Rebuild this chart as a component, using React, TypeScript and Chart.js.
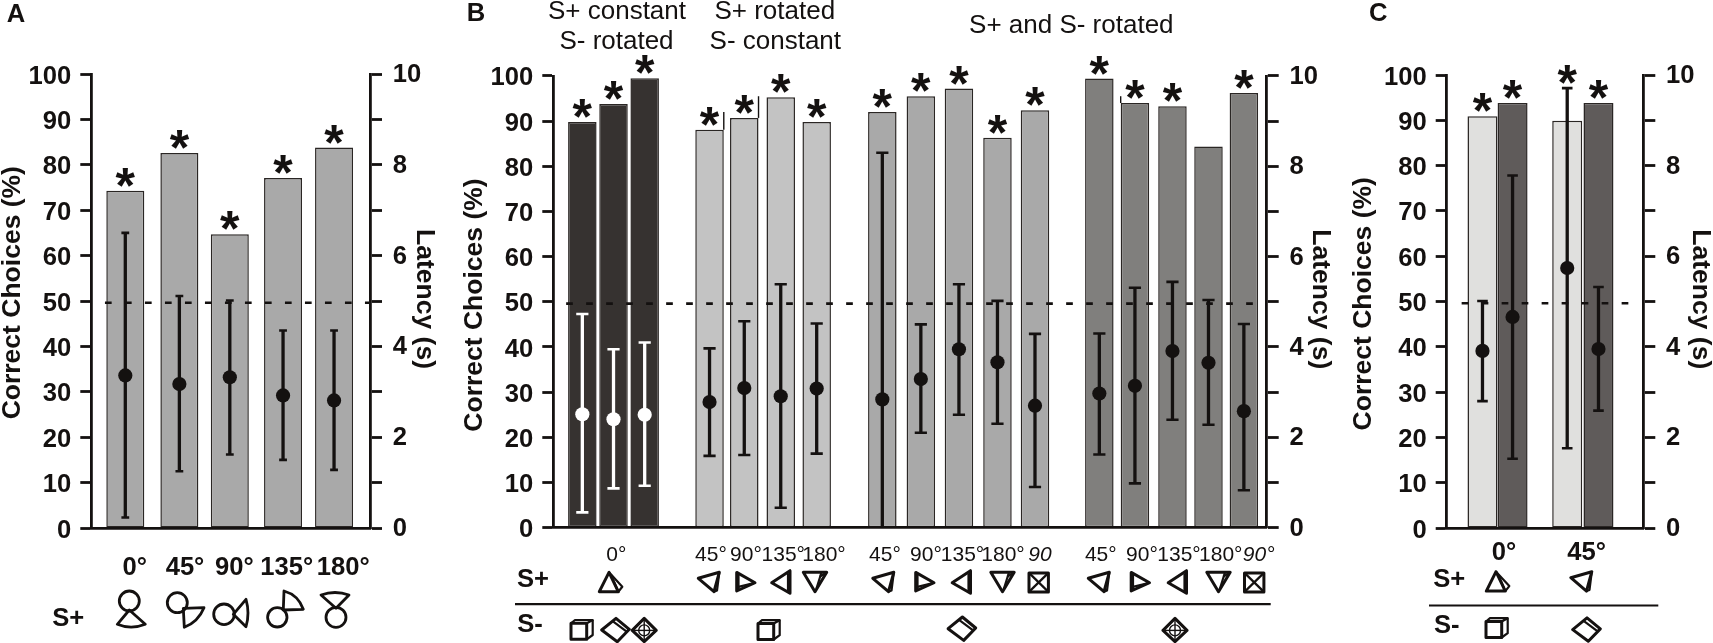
import Chart from "chart.js/auto";
import { useRef, useEffect } from "react";

const FONT = '"Liberation Sans", Arial, sans-serif';
const INK = "#141110";

const chanceLevel = 49.6;

// Panel A
const aPositions = [12.2, 31.6, 49.7, 68.8, 87.1];
const aCorrect = [74.3, 82.6, 64.7, 77.1, 83.8];
const aLatency = [3.36, 3.17, 3.32, 2.92, 2.81];
const aLatencyLow = [0.23, 1.25, 1.62, 1.5, 1.28];
const aLatencyHigh = [6.5, 5.11, 5.01, 4.35, 4.35];
const aStars = [74.3, 82.6, 64.7, 77.1, 83.8];
const aBarColors = ["#a9a9a9", "#a9a9a9", "#a9a9a9", "#a9a9a9", "#a9a9a9"];

// Panel B
const bPositions = [4.07, 8.44, 12.81, 21.9, 26.77, 31.88, 36.92, 46.12, 51.52, 56.86, 62.26, 67.52, 76.54, 81.53, 86.79, 91.84, 96.8];
const bCorrect = [89.8, 93.8, 99.5, 88.1, 90.7, 95.3, 89.8, 92, 95.5, 97.2, 86.3, 92.4, 99.4, 94, 93.3, 84.4, 96.2];
const bLatency = [2.51, 2.4, 2.5, 2.78, 3.09, 2.91, 3.08, 2.84, 3.29, 3.95, 3.66, 2.7, 2.97, 3.14, 3.91, 3.65, 2.58];
const bLatencyLow = [0.34, 0.87, 0.93, 1.59, 1.61, 0.44, 1.64, 0, 2.1, 2.5, 2.3, 0.9, 1.62, 0.98, 2.39, 2.28, 0.83];
const bLatencyHigh = [4.73, 3.95, 4.1, 3.97, 4.57, 5.39, 4.52, 8.3, 4.5, 5.39, 5.02, 4.29, 4.3, 5.31, 5.44, 5.04, 4.51];
const bStars = [89.8, 93.8, 99.5, 88.1, 90.7, 95.3, 89.8, 92, 95.5, 97.2, 86.3, 92.4, 99.4, 94, 93.3, null, 96.2];
const bBarColors = [
	"#363230", "#363230", "#363230",
	"#c3c3c3", "#c3c3c3", "#c3c3c3", "#c3c3c3",
	"#a9a9a9", "#a9a9a9", "#a9a9a9", "#a9a9a9", "#a9a9a9",
	"#807f7d", "#807f7d", "#807f7d", "#807f7d", "#807f7d",
];
const bMarkColors = [
	"#ffffff", "#ffffff", "#ffffff",
	INK, INK, INK, INK, INK, INK, INK, INK, INK, INK, INK, INK, INK, INK,
];
const bEdgeMarks = [
	{ bar: 3, side: 1, to: 92 },
	{ bar: 4, side: 1, to: 95.5 },
	{ bar: 13, side: -1, to: 95.5 },
];

// Panel C
const cPositions = [18.2, 33.5, 61.3, 77.2];
const cCorrect = [90.9, 93.8, 89.9, 93.8];
const cLatency = [3.91, 4.66, 5.74, 3.95];
const cLatencyLow = [2.8, 1.53, 1.76, 2.59];
const cLatencyHigh = [5.01, 7.78, 9.71, 5.32];
const cStars = [90.9, 93.8, 97.1, 93.8];
const cBarColors = ["#e0e0de", "#5f5b5a", "#e0e0de", "#5f5b5a"];

// Text around the plots: [text, centre x, baseline y]
const aDegrees = [["0°", 134.7, 574.5], ["45°", 185, 574.5], ["90°", 234.3, 574.5], ["135°", 286.7, 574.5], ["180°", 343.3, 574.5]];
const bDegrees = [
	["0°", 616.3, 560.6], ["45°", 711, 560.6], ["90°", 746, 560.6], ["135°", 783.3, 560.6], ["180°", 824, 560.6],
	["45°", 885, 560.6], ["90°", 926, 560.6], ["135°", 962.5, 560.6], ["180°", 1003, 560.6],
	["45°", 1100.8, 560.6], ["90°", 1142, 560.6], ["135°", 1179, 560.6], ["180°", 1220.8, 560.6],
];
const bItalicDegrees = [["90", 1040, 560.6], ["90°", 1258.7, 560.6]];
const bHeadings = [
	["S+ constant", 617, 19.3], ["S- rotated", 616.5, 49.2],
	["S+ rotated", 774.8, 19.3], ["S- constant", 775.3, 49.2],
	["S+ and S- rotated", 1071.3, 32.8],
];
const cDegrees = [["0°", 1504, 559.7], ["45°", 1586.7, 559.7]];
const aStimulusLabels = [["S+", 68.2, 626]];
const bStimulusLabels = [["S+", 533, 587], ["S-", 530, 632]];
const cStimulusLabels = [["S+", 1449.2, 587], ["S-", 1446.7, 633]];

// Stimulus drawings
const aKeys = [
	{ circle: [129.3, 601, 10], tri: [[129.3, 610], [117.3, 624.3], [145.3, 624.3]], bulge: [131, 630] },
	{ circle: [177.3, 602.7, 10], tri: [[183.3, 608.3], [204, 607.7], [184.3, 627.3]], bulge: [198.3, 621.7] },
	{ circle: [224, 614.3, 10.3], tri: [[233.3, 614.3], [246, 599.3], [246, 626.7]], bulge: [250, 613.3] },
	{ circle: [277.3, 617.3, 9.7], tri: [[283.3, 610], [284, 591], [303.3, 609.3]], bulge: [298.3, 595] },
	{ circle: [336, 617.3, 10], tri: [[336, 608.3], [321, 595], [349, 595]], bulge: [335, 590] },
];
const bGlyphs = [
	["up", 609, 583], ["left45", 708.5, 583], ["right", 745, 582.4], ["left", 781, 582.4], ["down", 815, 580.6],
	["left45", 883, 583], ["right", 924, 582.4], ["left", 961.5, 582.4], ["down", 1002.5, 580.6], ["box", 1038.7, 582.4],
	["left45", 1098.5, 583], ["right", 1139.5, 582.4], ["left", 1177.5, 582.4], ["down", 1218.5, 580.6], ["box", 1254.2, 582.4],
	["cube", 581.7, 629.8], ["diamond", 615.3, 629.8], ["cross", 644.2, 630.4],
	["cube", 768.7, 630], ["diamond", 961.7, 628.5], ["cross", 1175, 630.4],
];
const cGlyphs = [["up", 1496, 582.4], ["left45", 1581, 582.4], ["cube", 1496.7, 628], ["diamond", 1586.3, 629.4]];

const glyphShapes: Record<string, { outline: number[][]; extra: number[][][] }> = {
	up: { outline: [[0, -10.7], [-9.7, 8.7], [9.3, 8.7]], extra: [[[0, -10.7], [13.3, 3.7], [9.3, 8.7]], [[2, -8], [9.3, 8.7]]] },
	left45: { outline: [[-10.2, -4.7], [10.8, -10.7], [5.5, 8.7]], extra: [[[10.8, -10.7], [8.5, 7.5], [5.5, 8.7]]] },
	right: { outline: [[-8.3, -10], [10, 0.3], [-8.3, 8.6]], extra: [[[-6.5, 4.5], [10, 0.3]], [[-6.5, -8], [-6.5, 7]]] },
	left: { outline: [[-9.3, 0.3], [9, -11.7], [9, 10.9]], extra: [[[7, -9], [7, 8.6]]] },
	down: { outline: [[-11.7, -8.3], [11.7, -8.3], [0, 11.1]], extra: [[[6.5, -8.3], [1.5, 8]], [[11.7, -8.3], [5, -4]]] },
	box: { outline: [[-9.7, -9.5], [9.7, -9.5], [9.7, 9.5], [-9.7, 9.5]], extra: [[[-9.7, -9.5], [9.7, 9.5]], [[9.7, -9.5], [-9.7, 9.5]]] },
	cube: { outline: [[-10.7, -6.5], [5, -6.5], [5, 9.5], [-10.7, 9.5]], extra: [[[-10.7, -6.5], [-6.7, -9.8], [11, -9.8], [5, -6.5]], [[11, -9.8], [11, 5.2], [5, 9.5]]] },
	diamond: { outline: [[-13.6, 0.2], [0.7, -11.5], [14, -0.5], [2, 11.9]], extra: [[[-2, -8.1], [11.4, 1.9]]] },
	cross: { outline: [[-12, 0], [0, -12], [12, 0], [0, 11.3]], extra: [[[-12, 0], [12, 0]], [[0, -12], [0, 11.3]]] },
};

const panels = [
	{
		left: 0, width: 440, axisLeft: 91.3, axisRight: 370, top: 74, bottom: 528,
		positions: aPositions, correct: aCorrect, latency: aLatency, low: aLatencyLow, high: aLatencyHigh,
		stars: aStars, barColors: aBarColors, markColors: aBarColors.map(() => INK),
		barWidth: 38, capRadius: 3.9, dash: [4.9, 100],
		leftTitle: [12.5, 292.7], rightTitle: [424.2, 299],
		letter: ["A", 6.7, 22], rule: null, keys: aKeys, glyphs: [], edgeMarks: [],
		boldText: [...aDegrees, ...aStimulusLabels], plainText: [], italicText: [], headings: [],
	},
	{
		left: 440, width: 905, axisLeft: 553.3, axisRight: 1266.7, top: 75.9, bottom: 527.7,
		positions: bPositions, correct: bCorrect, latency: bLatency, low: bLatencyLow, high: bLatencyHigh,
		stars: bStars, barColors: bBarColors, markColors: bMarkColors,
		barWidth: 28.5, capRadius: 6.1, dash: [1.8, 98.7],
		leftTitle: [474.5, 305], rightTitle: [1320, 299.3],
		letter: ["B", 466.7, 21.3], rule: [515, 1270.7, 604.2], keys: [], glyphs: bGlyphs, edgeMarks: bEdgeMarks,
		boldText: bStimulusLabels, plainText: bDegrees, italicText: bItalicDegrees, headings: bHeadings,
	},
	{
		left: 1345, width: 368, axisLeft: 1446.7, axisRight: 1643.3, top: 75, bottom: 528,
		positions: cPositions, correct: cCorrect, latency: cLatency, low: cLatencyLow, high: cLatencyHigh,
		stars: cStars, barColors: cBarColors, markColors: cBarColors.map(() => INK),
		barWidth: 30, capRadius: 5.3, dash: [7.6, 92.8],
		leftTitle: [1364, 303.8], rightTitle: [1700, 299.3],
		letter: ["C", 1369, 20.5], rule: [1429, 1658.3, 605.5], keys: [], glyphs: cGlyphs, edgeMarks: [],
		boldText: [...cDegrees, ...cStimulusLabels], plainText: [], italicText: [], headings: [],
	},
];

type Panel = (typeof panels)[number];

const polyline = (ctx: CanvasRenderingContext2D, cx: number, cy: number, pts: number[][], close: boolean) => {
	ctx.beginPath();
	pts.forEach(([x, y], i) => (i ? ctx.lineTo(cx + x, cy + y) : ctx.moveTo(cx + x, cy + y)));
	if (close) ctx.closePath();
	ctx.stroke();
};

// Stars, labels and stimulus drawings that Chart.js has no element for
const panelExtras = (panel: Panel) => ({
	id: "panelExtras",
	afterDraw(chart: Chart) {
		const { ctx, scales } = chart;
		const bars = chart.getDatasetMeta(0).data as any[];
		const writeAll = (list: any[], font: string) => {
			ctx.font = font;
			list.forEach(([t, x, y]) => ctx.fillText(t, x - panel.left, y));
		};
		const writeTurned = (text: string, [x, y]: number[], angle: number) => {
			ctx.save();
			ctx.translate(x - panel.left, y);
			ctx.rotate(angle);
			ctx.textBaseline = "middle";
			ctx.font = `bold 26.5px ${FONT}`;
			ctx.fillText(text, 0, 0);
			ctx.restore();
		};

		ctx.save();
		ctx.fillStyle = INK;
		ctx.textAlign = "center";

		ctx.font = `bold 50px ${FONT}`;
		panel.stars.forEach((level, i) => {
			if (level === null) return;
			ctx.fillText("*", bars[i].x, scales.y.getPixelForValue(level) + 12);
		});

		writeTurned("Correct Choices (%)", panel.leftTitle, -Math.PI / 2);
		writeTurned("Latency (s)", panel.rightTitle, Math.PI / 2);

		writeAll(panel.boldText, `bold 25.6px ${FONT}`);
		writeAll(panel.plainText, `21px ${FONT}`);
		writeAll(panel.italicText, `italic 21px ${FONT}`);
		writeAll(panel.headings, `26px ${FONT}`);

		ctx.textAlign = "left";
		writeAll([panel.letter], `bold 25.6px ${FONT}`);

		ctx.strokeStyle = INK;
		ctx.lineJoin = "round";

		panel.edgeMarks.forEach(({ bar, side, to }) => {
			const x = bars[bar].x + (side * bars[bar].width) / 2;
			ctx.beginPath();
			ctx.moveTo(x, bars[bar].y);
			ctx.lineTo(x, scales.y.getPixelForValue(to));
			ctx.lineWidth = 1.4;
			ctx.stroke();
		});

		// Stimulus coordinates are page coordinates
		ctx.translate(-panel.left, 0);

		if (panel.rule) {
			const [x0, x1, y] = panel.rule;
			ctx.lineWidth = 2.2;
			ctx.beginPath();
			ctx.moveTo(x0, y);
			ctx.lineTo(x1, y);
			ctx.stroke();
		}

		ctx.lineWidth = 2.8;
		panel.keys.forEach(({ circle, tri, bulge }) => {
			ctx.beginPath();
			ctx.arc(circle[0], circle[1], circle[2], 0, Math.PI * 2);
			ctx.stroke();
			ctx.beginPath();
			ctx.moveTo(tri[0][0], tri[0][1]);
			ctx.lineTo(tri[1][0], tri[1][1]);
			ctx.quadraticCurveTo(bulge[0], bulge[1], tri[2][0], tri[2][1]);
			ctx.closePath();
			ctx.stroke();
		});

		panel.glyphs.forEach(([kind, cx, cy]: any) => {
			const shape = glyphShapes[kind];
			const isCross = kind === "cross";
			ctx.lineWidth = 3;
			polyline(ctx, cx, cy, shape.outline, true);
			ctx.lineWidth = isCross ? 1.4 : 2.2;
			shape.extra.forEach((line) => polyline(ctx, cx, cy, line, false));
			if (isCross) {
				ctx.beginPath();
				ctx.arc(cx, cy, 5.5, 0, Math.PI * 2);
				ctx.stroke();
			}
		});
		ctx.restore();
	},
});

const PanelChart = ({ panel }: { panel: Panel }) => {
	const chartRef = useRef<HTMLCanvasElement | null>(null);

	useEffect(() => {
		if (!chartRef.current) return;

		const leftWidth = panel.axisLeft - panel.left;
		const rightWidth = panel.left + panel.width - panel.axisRight;
		const xy = (ys: number[]) => panel.positions.map((x, i) => ({ x, y: ys[i] }));

		const chart = new Chart(chartRef.current, {
			type: "bar",
			data: {
				datasets: [
					{
						data: xy(panel.correct) as any,
						yAxisID: "y",
						backgroundColor: panel.barColors,
						borderColor: "#2a2624",
						borderWidth: 1.5,
						borderSkipped: false,
						grouped: false,
						barPercentage: 3,
						maxBarThickness: panel.barWidth,
						order: 5,
					},
					{
						type: "line",
						data: panel.dash.map((x) => ({ x, y: chanceLevel })) as any,
						yAxisID: "y",
						borderColor: INK,
						borderWidth: 2.6,
						borderDash: [6.7, 13.3],
						pointRadius: 0,
						order: 4,
					},
					{
						data: panel.positions.map((x, i) => ({ x, y: [panel.low[i], panel.high[i]] })) as any,
						yAxisID: "y2",
						backgroundColor: panel.markColors,
						borderWidth: 0,
						grouped: false,
						barPercentage: 3,
						maxBarThickness: 3.3,
						order: 3,
					},
					{
						type: "scatter",
						data: [...xy(panel.low), ...xy(panel.high)] as any,
						yAxisID: "y2",
						pointStyle: "line",
						pointRadius: panel.capRadius,
						pointBorderWidth: 2.6,
						pointBorderColor: [...panel.markColors, ...panel.markColors],
						order: 2,
					},
					{
						type: "scatter",
						data: xy(panel.latency) as any,
						yAxisID: "y2",
						pointStyle: "circle",
						pointRadius: 7.1,
						pointBorderWidth: 0,
						pointBackgroundColor: panel.markColors,
						order: 1,
					},
				],
			},
			options: {
				responsive: false,
				animation: false,
				layout: { padding: { top: panel.top, bottom: 643 - panel.bottom, left: 0, right: 0 } },
				scales: {
					x: {
						type: "linear",
						min: 0,
						max: 100,
						offset: false,
						afterFit: (s: any) => { s.height = 0; },
						ticks: { display: false },
						grid: { display: false },
						border: { display: true, color: INK, width: 2.8, z: 1 },
					},
					y: {
						position: "left",
						min: 0,
						max: 100,
						afterFit: (s: any) => { s.width = leftWidth; },
						ticks: { stepSize: 10, color: INK, padding: 9, labelOffset: 2.5, font: { family: FONT, size: 25.6, weight: "bold" } },
						grid: { drawOnChartArea: false, tickLength: 11, tickWidth: 2.8, tickColor: INK },
						border: { color: INK, width: 2.8 },
					},
					y2: {
						position: "right",
						min: 0,
						max: 10,
						afterFit: (s: any) => { s.width = rightWidth; },
						ticks: {
							stepSize: 1,
							autoSkip: false,
							color: INK,
							padding: 10.7,
							labelOffset: 1,
							font: { family: FONT, size: 25.6, weight: "bold" },
							callback: (v: any) => (Number(v) % 2 === 0 ? v : ""),
						},
						grid: { drawOnChartArea: false, tickLength: 12, tickWidth: 2.8, tickColor: INK },
						border: { color: INK, width: 2.8 },
					},
				},
				plugins: {
					legend: { display: false },
					tooltip: { enabled: false },
				},
			},
			plugins: [panelExtras(panel)],
		} as any);

		return () => chart.destroy();
	}, [panel]);

	return (
		<canvas
			ref={chartRef}
			width={panel.width}
			height={643}
			style={{ position: "absolute", left: panel.left, top: 0, display: "block" }}
		/>
	);
};

export default function App() {
	return (
		<div>
			{panels.map((panel) => (
				<PanelChart key={panel.left} panel={panel} />
			))}
		</div>
	);
}
